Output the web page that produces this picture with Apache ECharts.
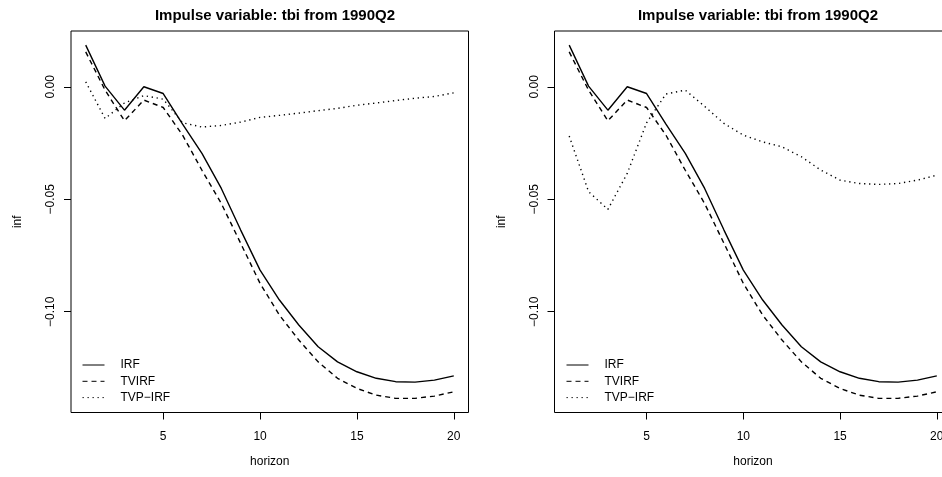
<!DOCTYPE html>
<html>
<head>
<meta charset="utf-8">
<script src="https://cdn.jsdelivr.net/npm/echarts@6/dist/echarts.min.js"></script>
<style>
  html, body { margin: 0; padding: 0; background: #fff; }
  #chart { width: 942px; height: 477px; }
</style>
</head>
<body>
<div id="chart"></div>
<script>
  // impulse responses of inf to tbi, horizons 1..20
  var horizon = [1, 2, 3, 4, 5, 6, 7, 8, 9, 10, 11, 12, 13, 14, 15, 16, 17, 18, 19, 20]
  var irf = [0.0185, 0.0003, -0.0104, 0.0000, -0.0030, -0.0166, -0.0296, -0.0452, -0.0637, -0.0815,
    -0.0948, -0.1059, -0.1156, -0.1223, -0.1267, -0.1296, -0.1311, -0.1313, -0.1304, -0.1285]
  var tvirf = [0.0155, -0.0015, -0.0151, -0.0059, -0.0092, -0.0215, -0.0371, -0.0519, -0.0696, -0.0874,
    -0.1015, -0.1126, -0.1223, -0.1296, -0.1341, -0.1371, -0.1385, -0.1385, -0.1375, -0.1356]
  var tvpIrfLeft = [0.0022, -0.0141, -0.0072, -0.0039, -0.0055, -0.0160, -0.0179, -0.0172, -0.0157, -0.0136,
    -0.0127, -0.0117, -0.0106, -0.0096, -0.0082, -0.0072, -0.0061, -0.0051, -0.0043, -0.0027]
  var tvpIrfRight = [-0.0219, -0.0466, -0.0545, -0.0385, -0.0160, -0.0032, -0.0015, -0.0087, -0.0163, -0.0215,
    -0.0245, -0.0267, -0.0311, -0.0370, -0.0415, -0.0430, -0.0434, -0.0430, -0.0415, -0.0393]
  var xTicks = [5, 10, 15, 20]
  var yTicks = [-0.10, -0.05, 0]
  var names = ['IRF', 'TVIRF', 'TVP\u2212IRF']
  var title = 'Impulse variable: tbi from 1990Q2'

  var font = 'Liberation Sans, Arial, Helvetica, sans-serif'

  function pairs(ys) {
    return horizon.map(function (h, i) { return [h, ys[i]] })
  }

  function fmtY(v) {
    var s = Math.abs(v).toFixed(2)
    return v < -1e-9 ? '\u2212' + s : s
  }

  function xAxisFor(idx) {
    return {
      gridIndex: idx,
      type: 'value',
      min: 0.24,
      max: 20.76,
      name: 'horizon',
      nameLocation: 'middle',
      nameGap: 43,
      nameTextStyle: { fontSize: 12, color: '#000', fontFamily: font },
      axisLine: { show: false, onZero: false },
      axisTick: { show: true, inside: false, length: 7, customValues: xTicks, lineStyle: { color: '#000', width: 1 } },
      axisLabel: { customValues: xTicks, margin: 18, fontSize: 12, color: '#000', fontFamily: font },
      splitLine: { show: false }
    }
  }

  function yAxisFor(idx) {
    return {
      gridIndex: idx,
      type: 'value',
      min: -0.1448,
      max: 0.0248,
      name: 'inf',
      nameLocation: 'middle',
      nameRotate: 90,
      nameGap: 47,
      nameTextStyle: { fontSize: 12, color: '#000', fontFamily: font },
      axisLine: { show: false, onZero: false },
      axisTick: { show: true, inside: false, length: 7, customValues: yTicks, lineStyle: { color: '#000', width: 1 } },
      axisLabel: { customValues: yTicks, rotate: 90, margin: 14, fontSize: 12, color: '#000', fontFamily: font, formatter: fmtY },
      splitLine: { show: false }
    }
  }

  function lineSeries(name, ys, idx, type) {
    return {
      name: name,
      type: 'line',
      xAxisIndex: idx,
      yAxisIndex: idx,
      symbol: 'none',
      animation: false,
      lineStyle: { color: '#000', width: 1.4, type: type },
      itemStyle: { color: '#000' },
      data: pairs(ys)
    }
  }

  function legendFor(left) {
    return {
      left: left,
      top: 359,
      orient: 'vertical',
      padding: 0,
      itemWidth: 22,
      itemHeight: 14,
      itemGap: 4.3,
      selectedMode: false,
      data: names,
      itemStyle: { opacity: 0 },
      lineStyle: { width: 1 },
      textStyle: { fontSize: 12, color: '#000', fontFamily: font, padding: [0, 0, 0, 11] }
    }
  }

  var chart = echarts.init(document.getElementById('chart'), null, { renderer: 'canvas' })

  chart.setOption({
    backgroundColor: '#fff',
    animation: false,
    title: [
      { text: title, left: 270, top: 3, textAlign: 'center',
        textStyle: { fontSize: 15, fontWeight: 'bold', color: '#000', fontFamily: font } },
      { text: title, left: 753, top: 3, textAlign: 'center',
        textStyle: { fontSize: 15, fontWeight: 'bold', color: '#000', fontFamily: font } }
    ],
    legend: [legendFor(82), legendFor(566)],
    grid: [
      { left: 71, top: 31, width: 397.5, height: 381.5, show: true, borderColor: '#000', borderWidth: 1, outerBoundsMode: 'none' },
      { left: 554.5, top: 31, width: 397, height: 381.5, show: true, borderColor: '#000', borderWidth: 1, outerBoundsMode: 'none' }
    ],
    xAxis: [xAxisFor(0), xAxisFor(1)],
    yAxis: [yAxisFor(0), yAxisFor(1)],
    series: [
      lineSeries(names[0], irf, 0, 'solid'),
      lineSeries(names[1], tvirf, 0, [5, 4]),
      lineSeries(names[2], tvpIrfLeft, 0, [1.3, 3.7]),
      lineSeries(names[0], irf, 1, 'solid'),
      lineSeries(names[1], tvirf, 1, [5, 4]),
      lineSeries(names[2], tvpIrfRight, 1, [1.3, 3.7])
    ]
  })
</script>
</body>
</html>
